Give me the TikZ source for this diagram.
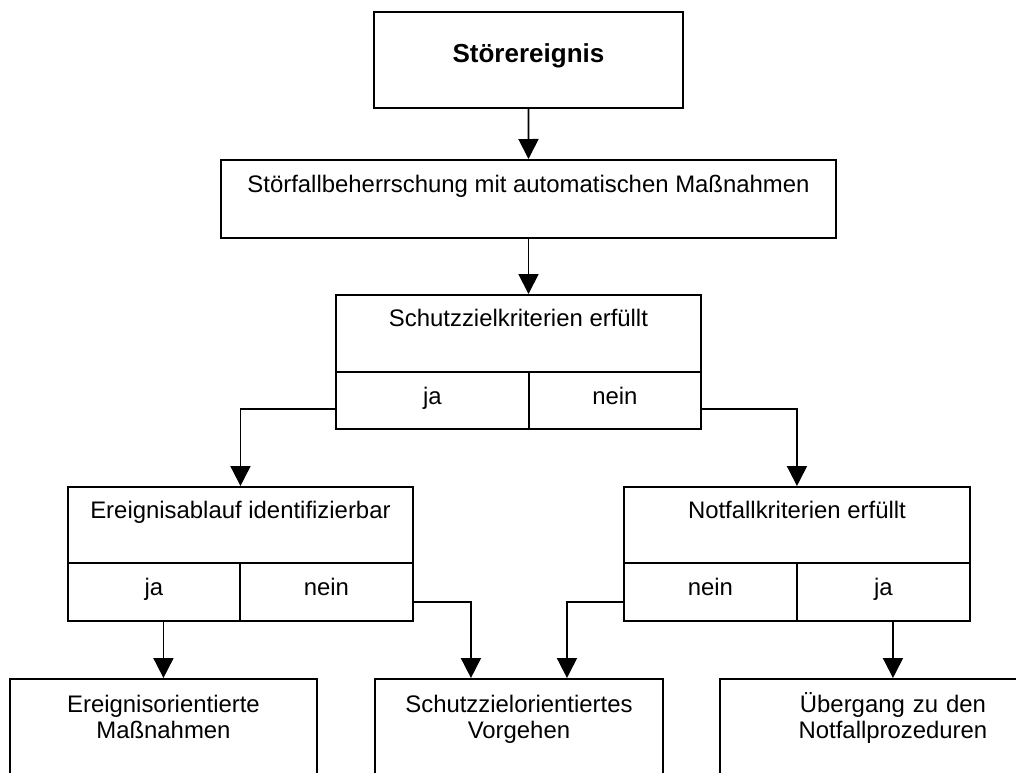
\documentclass[tikz,border=0pt]{standalone}
\usepackage{fontspec}
\setmainfont{Liberation Sans}
\usepackage{tikz}
\usetikzlibrary{calc}
\usetikzlibrary{arrows.meta}
\tikzset{box/.style={draw=black,line width=1.3pt,anchor=north west,inner sep=0pt,align=center,font=\fontsize{17}{18.5}\selectfont}}
\tikzset{arr/.style={line width=1.3pt,-{Triangle[length=0.5cm,width=0.5cm]}}}

\begin{document}
\begin{tikzpicture}[x=0.025cm,y=-0.025cm]
\useasboundingbox (0,0) rectangle (1016,772);
\clip (0,0) rectangle (1016,772);
% oberste Ebene
\node[box, minimum width=7.725cm, text height=1.275cm, text depth=1.125cm, font=\fontsize{18.5}{20}\selectfont\bfseries] (stoer) at (373,11) {Störereignis};
\node[box, minimum width=15.375cm, text height=0.825cm, text depth=1.125cm] (beh) at (220,159) {Störfallbeherrschung mit automatischen Maßnahmen};
% Schutzziel
\node[box, minimum width=9.125cm, text height=0.8cm, text depth=1.125cm] (krit) at (335,294) {Schutzzielkriterien erfüllt};
\node[box, minimum width=4.825cm, text height=0.825cm, text depth=0.6cm] (kja) at (335,371) {ja};
\node[box, minimum width=4.3cm, text height=0.825cm, text depth=0.6cm] (knein) at (528,371) {nein};
% Ereignisablauf
\node[box, minimum width=8.625cm, text height=0.8cm, text depth=1.1cm] (eabl) at (67,486) {Ereignisablauf identifizierbar};
\node[box, minimum width=4.3cm, text height=0.825cm, text depth=0.625cm] (eja) at (67,562) {ja};
\node[box, minimum width=4.325cm, text height=0.825cm, text depth=0.625cm] (enein) at (239,562) {nein};
% Notfall
\node[box, minimum width=8.65cm, text height=0.8cm, text depth=1.1cm] (notf) at (623,486) {Notfallkriterien erfüllt};
\node[box, minimum width=4.325cm, text height=0.825cm, text depth=0.625cm] (nnein) at (623,562) {nein};
\node[box, minimum width=4.325cm, text height=0.825cm, text depth=0.625cm] (nja) at (796,562) {ja};
% unterste Ebene
\node[box, text width=7.675cm, text height=0.85cm, text depth=2.2cm] (massn) at (9,678) {Ereignisorientierte\\Maßnahmen};
\node[box, text width=7.2cm, text height=0.85cm, text depth=2.2cm] (vorg) at (374,678) {Schutzzielorientiertes\\Vorgehen};
\node[box, text width=8.65cm, text height=0.85cm, text depth=2.2cm] (uebg) at (719,678) {Übergang zu den\\Notfallprozeduren};

\draw[arr] (stoer.south) -- (beh.north);
\draw[arr] (beh.south) -- (beh.south |- krit.north);
\draw[arr] ($(kja.north west)!0.65!(kja.south west)$) -| (eabl.north);
\draw[arr] ($(knein.north east)!0.65!(knein.south east)$) -| (notf.north);
\draw[arr] (eja.south -| massn.north) -- (massn.north);
\draw[arr] ($(enein.north east)!0.67!(enein.south east)$) -| ([xshift=-1.2cm]vorg.north);
\draw[arr] ($(nnein.north west)!0.67!(nnein.south west)$) -| ([xshift=1.2cm]vorg.north);
\draw[arr] (nja.south -| uebg.north) -- (uebg.north);
\end{tikzpicture}
\end{document}
